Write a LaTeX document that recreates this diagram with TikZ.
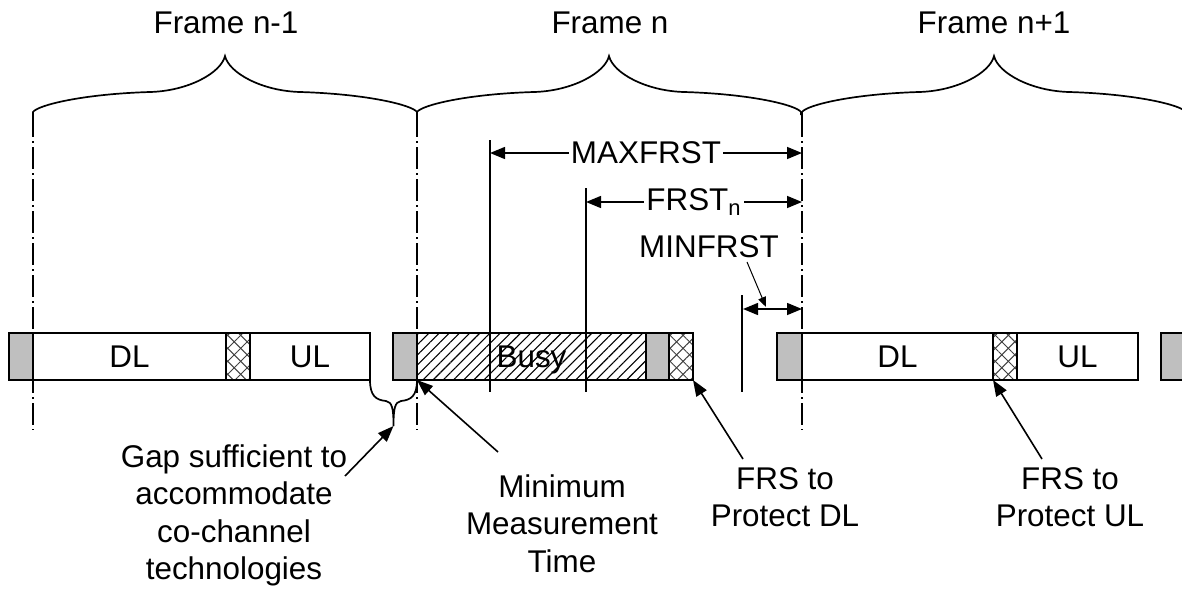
\documentclass[tikz,border=0pt]{standalone}
\usepackage{fontspec}
\setmainfont{Liberation Sans}
\usetikzlibrary{arrows.meta,patterns.meta}

\tikzset{
  every node/.style={font=\fontsize{15.7}{18.75}\selectfont},
  seg/.style={draw, line width=1pt, inner sep=0pt, outer sep=0pt, anchor=west,
    minimum height=23.5pt, text depth=0pt},
  grayseg/.style={seg, fill=black!25},
  whiteseg/.style={seg, fill=white},
  busyseg/.style={seg, pattern={Lines[angle=45,distance=3.6pt,line width=0.55pt]}},
  xhatch/.style={seg,
    pattern={Lines[angle=45,distance=4.6pt,line width=0.5pt]}, pattern color=black!75,
    preaction={pattern={Lines[angle=-45,distance=4.6pt,line width=0.5pt]}, pattern color=black!75}},
  framedash/.style={line width=1pt, dash pattern=on 11pt off 2pt on 1pt off 2pt},
  brace line/.style={line width=0.85pt},
  markline/.style={line width=1pt},
  dimarrow/.style={line width=0.75pt, {Triangle[length=7.5pt,width=6pt]}-{Triangle[length=7.5pt,width=6pt]}},
  dimlabel/.style={fill=white, inner sep=1pt},
  pointer/.style={line width=0.8pt, -{Triangle[length=8pt,width=6pt]}},
  thinpointer/.style={line width=0.5pt, -{Triangle[length=5pt,width=4pt]}},
  lbl/.style={align=center, inner sep=0pt, anchor=north},
  framebrace/.pic={
    \draw[brace line] (0,0) -- (0,-3) .. controls (5,-10) and (50,-21) .. (117,-23)
      .. controls (155,-24) and (188,-42) .. (192,-59)
      .. controls (196,-42) and (229,-24) .. (267,-23)
      .. controls (334,-21) and (379,-10) .. (384,-3) -- (384,0);
  }
}

% one cell of a frame bar: name, left x, right x, style, text
\newcommand\barseg[5]{\node[#4, minimum width={(#3-#2)*0.5pt}] (#1) at (#2,356.5) {#5};}

\begin{document}
\begin{tikzpicture}[x=0.5pt, y=-0.5pt]
  \useasboundingbox (0,0) rectangle (1182,589);
  \clip (0,0) rectangle (1182,589);

  % frame boundaries and braces
  \foreach \x in {33,417,802} {
    \draw[framedash] (\x,115) -- (\x,430);
    \pic at (\x,115) {framebrace};
  }
  \node[anchor=base] (tprev) at (226,33) {Frame n-1};
  \node[anchor=base] (tcur) at (610,33) {Frame n};
  \node[anchor=base] (tnext) at (994,33) {Frame n+1};

  % frame n-1
  \barseg{g1}{9}{33}{grayseg}{}
  \barseg{dl1}{33}{226}{whiteseg}{DL}
  \barseg{x1}{226}{250}{xhatch}{}
  \barseg{ul1}{250}{370}{whiteseg}{UL}
  % frame n
  \barseg{g2}{393}{417}{grayseg}{}
  \barseg{busy}{417}{646}{busyseg}{Busy}
  \barseg{g3}{646}{669}{grayseg}{}
  \barseg{x2}{669}{693}{xhatch}{}
  % frame n+1
  \barseg{g4}{777}{802}{grayseg}{}
  \barseg{dl3}{802}{993}{whiteseg}{DL}
  \barseg{x3}{993}{1017}{xhatch}{}
  \barseg{ul3}{1017}{1138}{whiteseg}{UL}
  \barseg{g5}{1161}{1190}{grayseg}{}

  % gap between frames
  \coordinate (gaptip) at (393.5,426);
  \draw[brace line] (ul1.south east) .. controls (370,396) and (376,400) .. (386,401)
    .. controls (392,402) and (393.5,408) .. (gaptip)
    .. controls (393.5,408) and (395,402) .. (401,401)
    .. controls (411,400) and (417,396) .. (busy.south west);

  % FRST markers
  \coordinate (maxtop) at (490,140);
  \coordinate (maxbot) at (490,392);
  \coordinate (frsttop) at (586,188);
  \coordinate (frstbot) at (586,392);
  \coordinate (mintop) at (742,295);
  \coordinate (minbot) at (742,392);
  \draw[markline] (maxtop) -- (maxbot);
  \draw[markline] (frsttop) -- (frstbot);
  \draw[markline] (mintop) -- (minbot);

  \coordinate (maxa) at (490,153);
  \coordinate (maxb) at (802,153);
  \draw[dimarrow] (maxa) -- node[dimlabel] (maxlbl) {MAXFRST} (maxb);
  \coordinate (frsta) at (586,202);
  \coordinate (frstb) at (802,202);
  \draw[dimarrow] (frsta) -- node[dimlabel] (frstlbl) {FRST\textsubscript{n}} (frstb);
  \coordinate (mina) at (743,309);
  \coordinate (minb) at (802,309);
  \draw[dimarrow] (mina) -- (minb);
  \node (minlbl) at (709,247) {MINFRST};
  \coordinate (minfrom) at (747,262);
  \coordinate (minto) at (766,307);
  \draw[thinpointer] (minfrom) -- (minto);

  % callouts
  \node[lbl] (gaptxt) at (234,444) {Gap sufficient to\\accommodate\\co-channel\\technologies};
  \node[lbl] (mmt) at (562,474) {Minimum\\Measurement\\Time};
  \node[lbl] (frsdl) at (785,467) {FRS to\\Protect DL};
  \node[lbl] (frsul) at (1070,467) {FRS to\\Protect UL};

  \coordinate (gapfrom) at (345,476);
  \coordinate (mmtfrom) at (498,452);
  \coordinate (dlfrom) at (743,459);
  \coordinate (ulfrom) at (1042,459);
  \draw[pointer] (gapfrom) -- (gaptip);
  \draw[pointer] (mmtfrom) -- (busy.south west);
  \draw[pointer] (dlfrom) -- (x2.south east);
  \draw[pointer] (ulfrom) -- (x3.south west);
\end{tikzpicture}
\end{document}
